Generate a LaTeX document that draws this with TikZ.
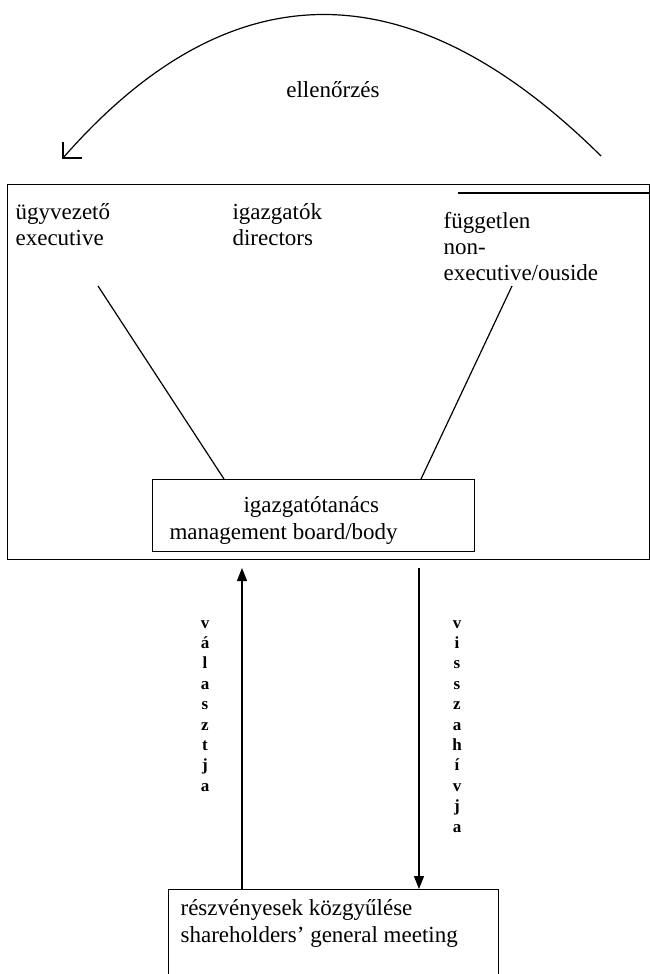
\documentclass[tikz,border=0pt]{standalone}
\usepackage{fontspec}
\setmainfont{Liberation Serif}
\usetikzlibrary{arrows.meta}
\begin{document}
\begin{tikzpicture}[x=1pt, y=-1pt, line width=1.2pt,
  lbl/.style={font=\fontsize{23}{27}\selectfont, inner sep=0pt, anchor=base west},
  vlet/.style={font=\fontsize{17}{20}\selectfont\bfseries, inner sep=0pt, anchor=base},
  box/.style={draw, line width=1.3pt, inner sep=0pt},
  tip/.style={-{Triangle[width=10pt,length=13pt]}}]
\useasboundingbox (0,0) rectangle (650,974);
\clip (0,0) rectangle (650,974);

% control arc over the board (a parabola, written as a cubic)
\coordinate (arcstart) at (601,156);
\coordinate (arctip) at (63,158);
\draw (arcstart) .. controls (410,-33) and (230,-33) .. (arctip);
\draw (arctip) ++(0,-16) -- (arctip) -- ++(19,0);
\node[lbl, anchor=base] (ctrl) at (333,97) {ellenőrzés};

% board frame
\node[box, minimum width=642pt, minimum height=375pt, anchor=north west] (frame) at (7,184) {};
\coordinate (rulestart) at (458,193);
\coordinate (ruleend) at (650,193);
\draw[line width=2pt] (rulestart) -- (ruleend);

\node[lbl] (exec1) at (15,219) {ügyvezető};
\node[lbl] (exec2) at (15,245) {executive};
\node[lbl] (dir1) at (232,219) {igazgatók};
\node[lbl] (dir2) at (232,245) {directors};
\node[lbl] (ind1) at (443,228) {független};
\node[lbl] (ind2) at (443,254) {non-};
\node[lbl] (ind3) at (443,280) {executive/ouside};

% management board
\node[box, minimum width=322pt, minimum height=72pt, anchor=north west] (board) at (152,479) {};
\node[lbl] (board1) at (243,512) {igazgatótanács};
\node[lbl] (board2) at (169,539) {management board/body};

\coordinate (execfoot) at (98,286);
\coordinate (indfoot) at (512,286);
\draw (execfoot) -- ([xshift=72pt]board.north west);
\draw (indfoot) -- ([xshift=269pt]board.north west);

% shareholders' meeting
\node[box, minimum width=330pt, minimum height=130pt, anchor=north west] (meeting) at (168,889) {};
\node[lbl] (meet1) at (180,915) {részvényesek közgyűlése};
\node[lbl] (meet2) at (180,942) {shareholders’ general meeting};

% elects / recalls
\coordinate (upend) at (242,568);
\coordinate (downstart) at (419,568);
\draw[tip] (meeting.north west -| upend) -- (upend);
\draw[tip] (downstart) -- (meeting.north west -| downstart);

\foreach \c [count=\i from 0] in {v,á,l,a,s,z,t,j,a}
  \node[vlet] (el\i) at (205,628+20.4*\i) {\c};
\foreach \c [count=\i from 0] in {v,i,s,s,z,a,h,í,v,j,a}
  \node[vlet] (rc\i) at (457,628+20.4*\i) {\c};
\end{tikzpicture}
\end{document}
